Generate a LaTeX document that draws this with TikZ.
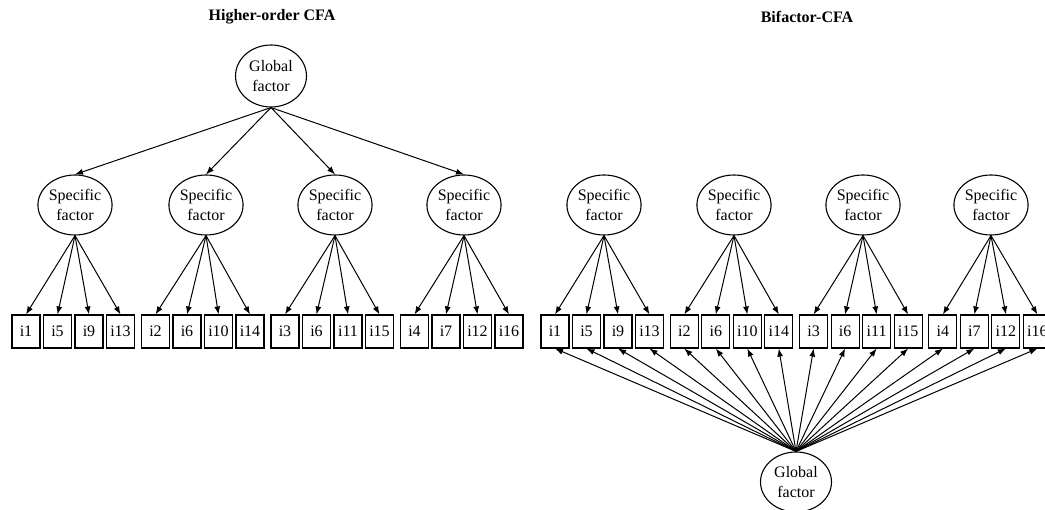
\documentclass[tikz,border=0pt]{standalone}
\usepackage{fontspec}
\setmainfont{Liberation Serif}
\usetikzlibrary{shapes.geometric,arrows.meta}
\begin{document}
\begin{tikzpicture}[x=1pt,y=-1pt,
  latent/.style={ellipse,draw,line width=1.1pt,inner sep=0pt,minimum width=72pt,minimum height=60pt,align=center,font=\fontsize{16}{20}\selectfont},
  item/.style={rectangle,draw,line width=1.1pt,inner sep=0pt,minimum width=28pt,minimum height=33pt,font=\fontsize{16}{19}\selectfont},
  arr/.style={-{Latex[length=8pt,width=6pt]},line width=1pt},
  ttl/.style={font=\bfseries\fontsize{16}{19}\selectfont}]
\useasboundingbox (0,0) rectangle (1045,510);
\node[ttl] (t1) at (272,17) {Higher-order CFA};
\node[ttl] (t2) at (807,17) {Bifactor-CFA};
\node[latent,minimum height=62pt,minimum width=71pt] (LG) at (271,76) {Global\\factor};
\node[latent,minimum height=60pt,minimum width=71pt] (RG) at (796,482) {Global\\factor};
\foreach \x [count=\j from 0] in {75,206,335,464}
  \node[latent] (LS\j) at (\x,205) {Specific\\factor};
\foreach \x [count=\j from 0] in {604,734,863,991}
  \node[latent] (RS\j) at (\x,205) {Specific\\factor};
\foreach \lab [count=\i from 0] in {i1,i5,i9,i13,i2,i6,i10,i14,i3,i6,i11,i15,i4,i7,i12,i16} {
  \pgfmathtruncatemacro\g{\i/4}
  \pgfmathsetmacro\k{\i-4*\g}
  \node[item] (L\i) at ({26+129.5*\g+31.5*\k},331.5) {\lab};
  \node[item] (R\i) at ({555+129.3*\g+31.5*\k},331.5) {\lab};
}
\foreach \j in {0,...,3}
  \draw[arr] (LG.south) -- (LS\j.north);
\foreach \i in {0,...,15} {
  \pgfmathtruncatemacro\g{\i/4}
  \draw[arr] (LS\g.south) -- (L\i.north);
  \draw[arr] (RS\g.south) -- (R\i.north);
  \draw[arr] (RG.north) -- (R\i.south);
}
\end{tikzpicture}
\end{document}
